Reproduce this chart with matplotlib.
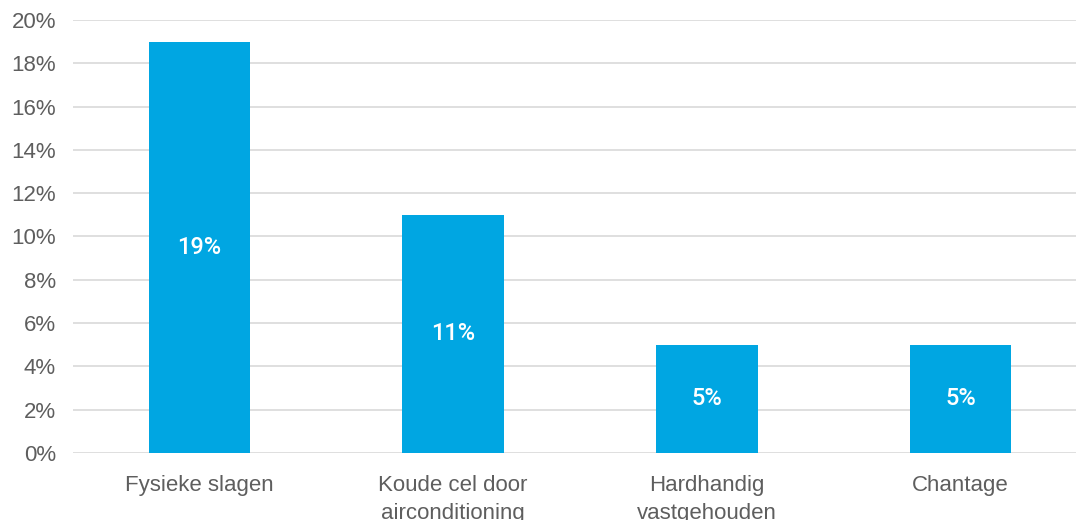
import matplotlib
matplotlib.use("Agg")
import matplotlib.pyplot as plt

# ────── Data ──────

categories = ["Fysieke slagen", "Koude cel door\nairconditioning",
              "Hardhandig\nvastgehouden", "Chantage"]
values = [19, 11, 5, 5]
yticks = [0, 2, 4, 6, 8, 10, 12, 14, 16, 18, 20]

# ────── Style ──────

COLOR_BAR = "#00A6E2"
COLOR_GRID = "#D9D9D9"
COLOR_TEXT = "#5E5E5E"
FONT = ["Liberation Sans", "DejaVu Sans"]

plt.rcParams["font.family"] = FONT

fig = plt.figure(figsize=(10.76, 5.2), dpi=100)
ax = fig.add_axes([72.6 / 1076, 67 / 520, 1014.7 / 1076, 433 / 520])

x = range(len(categories))
bars = ax.bar(x, values, width=0.4, color=COLOR_BAR, zorder=2)

# value labels, centred inside each bar
for b, v in zip(bars, values):
    ax.text(b.get_x() + b.get_width() / 2, v / 2, f"{v}%",
            ha="center", va="center", fontsize=17, color="white",
            family=["Roboto", "Liberation Sans"], fontweight="medium",
            zorder=3)

ax.set_xlim(-0.5, 3.5)
ax.set_ylim(0, 20)
ax.set_yticks(yticks)
ax.set_yticklabels([f"{t}%" for t in yticks])
ax.set_xticks(list(x))
ax.set_xticklabels(categories, linespacing=1.4)

ax.yaxis.grid(True, color=COLOR_GRID, lw=1.2, zorder=0)
for s in ax.spines.values():
    s.set_visible(False)
ax.tick_params(axis="both", length=0, colors=COLOR_TEXT, labelsize=16)
ax.tick_params(axis="x", pad=16)
ax.tick_params(axis="y", pad=12)

fig.savefig("out.png", dpi=100)
